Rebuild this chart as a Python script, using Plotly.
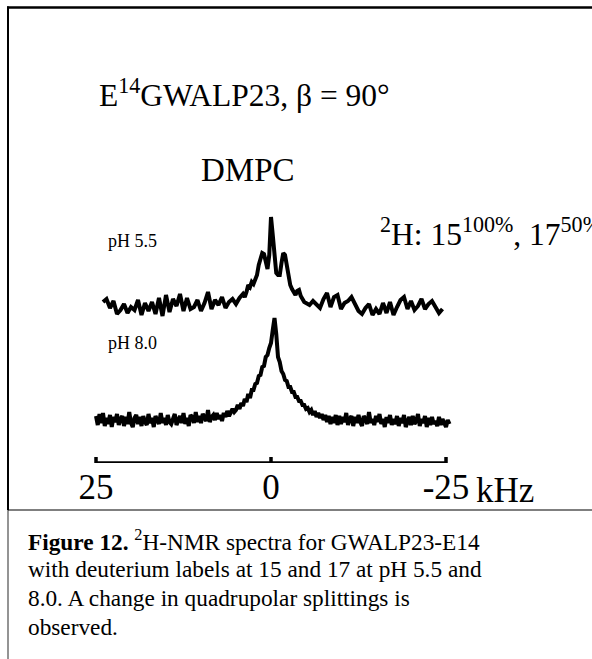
import plotly.graph_objects as go

# ---------------------------------------------------------------------------
# 2H-NMR spectra of E14GWALP23 in DMPC (beta = 90 deg), frequency in kHz
# ---------------------------------------------------------------------------

# pH 5.5 spectrum
freq_ph55 = [
    24.0, 23.5, 23.0, 22.5, 22.0, 21.5, 21.0, 20.5, 20.0, 19.5,
    19.0, 18.5, 18.0, 17.5, 17.0, 16.5, 16.0, 15.5, 15.0, 14.5,
    14.0, 13.5, 13.0, 12.5, 12.0, 11.5, 11.0, 10.5, 10.0, 9.5,
    9.0, 8.5, 8.0, 7.5, 7.0, 6.5, 6.0, 5.5, 5.0, 4.5,
    4.0, 3.75, 3.5, 3.25, 3.0, 2.75, 2.5, 2.25, 2.0, 1.75,
    1.5, 1.25, 1.0, 0.75, 0.5, 0.25, 0.0, -0.25, -0.5, -0.75,
    -1.0, -1.25, -1.5, -1.75, -2.0, -2.25, -2.5, -2.75, -3.0, -3.25,
    -3.5, -3.75, -4.0, -4.25, -4.5, -4.75, -5.0,
    -5.5, -6.0, -6.5, -7.0, -7.5, -8.0, -8.5, -9.0, -9.5, -10.0,
    -10.5, -11.0, -11.5, -12.0, -12.5, -13.0, -13.5, -14.0, -14.5, -15.0,
    -15.5, -16.0, -16.5, -17.0, -17.5, -18.0, -18.5, -19.0, -19.5, -20.0,
    -20.5, -21.0, -21.5, -22.0, -22.5, -23.0, -23.5, -24.0, -24.5,
]
intensity_ph55 = [
    3, 6, -3, 4, -9, -5, 1, -8, -2, -5,
    5, -10, 2, -6, 3, -9, 7, -11, 10, -7,
    6, -1, 11, -6, 7, -4, -2, 5, -6, 2,
    13, -4, 5, 0, 8, -3, 3, 6, 1, 7,
    11, 8, 13, 20, 18, 23, 21, 27, 30, 40,
    48, 52, 51, 42, 36, 50, 88, 70, 45, 32,
    30, 30, 42, 52, 50, 38, 28, 20, 16, 12,
    10, 14, 15, 9, 5, 3, 2,
    0, 4, 1, -3, 6, 12, -2, 8, 10, -4,
    2, 4, 8, 0, -6, -9, -3, 1, -10, -4,
    -9, 2, -8, 3, -10, -2, 5, 8, -4, 4,
    -5, -1, 6, -4, 1, 4, -2, -8, -4,
]

# pH 8.0 spectrum
freq_ph80 = [
    25.0, 24.75, 24.5, 24.25, 24.0, 23.75, 23.5, 23.25, 23.0, 22.75,
    22.5, 22.25, 22.0, 21.75, 21.5, 21.25, 21.0, 20.75, 20.5, 20.25,
    20.0, 19.75, 19.5, 19.25, 19.0, 18.75, 18.5, 18.25, 18.0, 17.75,
    17.5, 17.25, 17.0, 16.75, 16.5, 16.25, 16.0, 15.75, 15.5, 15.25,
    15.0, 14.75, 14.5, 14.25, 14.0, 13.75, 13.5, 13.25, 13.0, 12.75,
    12.5, 12.25, 12.0, 11.75, 11.5, 11.25, 11.0, 10.75, 10.5, 10.25,
    10.0, 9.75, 9.5, 9.25, 9.0, 8.75, 8.5, 8.25, 8.0, 7.75,
    7.5, 7.25, 7.0, 6.75, 6.5, 6.25, 6.0, 5.75, 5.5, 5.25,
    5.0, 4.75, 4.5, 4.25, 4.0, 3.75, 3.5, 3.25, 3.0, 2.75,
    2.5, 2.25, 2.0, 1.75, 1.5, 1.25, 1.0, 0.75, 0.5, 0.25,
    0.0, -0.25, -0.5, -0.75, -1.0, -1.25, -1.5, -1.75, -2.0, -2.25,
    -2.5, -2.75, -3.0, -3.25, -3.5, -3.75, -4.0, -4.25, -4.5, -4.75,
    -5.0, -5.25, -5.5, -5.75, -6.0, -6.25, -6.5, -6.75, -7.0, -7.25,
    -7.5, -7.75, -8.0, -8.25, -8.5, -8.75, -9.0, -9.25, -9.5, -9.75,
    -10.0, -10.25, -10.5, -10.75, -11.0, -11.25, -11.5, -11.75, -12.0, -12.25,
    -12.5, -12.75, -13.0, -13.25, -13.5, -13.75, -14.0, -14.25, -14.5, -14.75,
    -15.0, -15.25, -15.5, -15.75, -16.0, -16.25, -16.5, -16.75, -17.0, -17.25,
    -17.5, -17.75, -18.0, -18.25, -18.5, -18.75, -19.0, -19.25, -19.5, -19.75,
    -20.0, -20.25, -20.5, -20.75, -21.0, -21.25, -21.5, -21.75, -22.0, -22.25,
    -22.5, -22.75, -23.0, -23.25, -23.5, -23.75, -24.0, -24.25, -24.5, -24.75,
    -25.0, -25.25, -25.5,
]
intensity_ph80 = [
    4, -5, 6, -3, 7, -6, 2, -4, 5, -7,
    3, -2, 6, -5, 1, 4, -6, 3, -4, 8,
    -3, -7, 2, 5, -4, 3, -6, 4, -2, -5,
    6, -3, 2, -7, 4, -1, -4, 7, -3, 2,
    -5, 5, -2, -4, 3, 6, -5, 1, 4, -3,
    7, -4, 2, -6, 5, 3, -3, 8, -2, 4,
    -3, 6, 2, -1, 10, -2, 3, 5, 0, 7,
    1, 5, -1, 7, 3, 9, 4, 8, 11, 8,
    10, 15, 11, 17, 14, 21, 18, 26, 22, 30,
    30, 36, 37, 44, 45, 53, 54, 63, 65, 72,
    77, 90, 102, 86, 63, 58, 49, 46, 40, 39,
    33, 33, 28, 28, 23, 23, 19, 19, 15, 15,
    11, 12, 8, 10, 5, 9, 3, 7, 2, 6,
    0, 5, -2, 4, -4, 3, -3, 5, -5, 4,
    -4, 3, -2, 7, -5, 1, 4, -6, 3, -3,
    5, -2, -6, 4, 1, -4, 8, -3, 1, -5,
    4, -2, 6, -4, 1, -7, 3, -3, 5, -5,
    1, -4, 4, -6, 2, -3, 5, -7, -1, 3,
    -5, 4, -4, -1, 6, -6, 1, -3, 4, -7,
    2, -5, 3, -4, -1, -6, 3, -5, 1, -3,
    -7, 0, -4,
]

# scale bar ticks
tick_vals = [25, 0, -25]
tick_text = ["25", "0", "-25"]

# ---------------------------------------------------------------------------
W, H = 592, 659
SERIF = "Liberation Serif"
BAR_Y = 463          # pixel row of the scale bar
PX_PER_KHZ = 7.0
X_25 = 96            # pixel column of +25 kHz

x_left = 25 + X_25 / PX_PER_KHZ
x_right = x_left - W / PX_PER_KHZ

OFFSET_PH55 = BAR_Y - 305   # stacked baselines
OFFSET_PH80 = BAR_Y - 420


def px(x):
    return x / W


def py(y):
    return 1 - y / H


fig = go.Figure()
for freq, inten, off in [(freq_ph55, intensity_ph55, OFFSET_PH55),
                         (freq_ph80, intensity_ph80, OFFSET_PH80)]:
    fig.add_trace(go.Scatter(
        x=freq, y=[v + off for v in inten], mode="lines",
        line=dict(color="black", width=4, shape="linear"),
        hoverinfo="skip", showlegend=False,
    ))

shapes = []
# scale bar and its ticks
shapes.append(dict(type="line", xref="x", yref="y", x0=tick_vals[0], x1=tick_vals[-1],
                   y0=0, y1=0, line=dict(color="black", width=3.5)))
for v in tick_vals:
    shapes.append(dict(type="line", xref="x", yref="y", x0=v, x1=v, y0=-6, y1=6,
                       line=dict(color="black", width=3.5)))

# frame lines
shapes += [
    dict(type="line", xref="paper", yref="paper", x0=px(7), x1=1, y0=py(7.5), y1=py(7.5),
         line=dict(color="black", width=2.5)),
    dict(type="line", xref="paper", yref="paper", x0=px(8), x1=px(8), y0=py(6.5), y1=py(510),
         line=dict(color="black", width=2)),
    dict(type="line", xref="paper", yref="paper", x0=px(8), x1=px(8), y0=py(510), y1=0,
         line=dict(color="#707070", width=1.5)),
    dict(type="line", xref="paper", yref="paper", x0=px(8), x1=1, y0=py(510), y1=py(510),
         line=dict(color="black", width=1.2)),
]

annotations = []


def label(text, x, y, size, xanchor="left"):
    annotations.append(dict(
        text=text, x=px(x), y=py(y), xref="paper", yref="paper",
        xanchor=xanchor, yanchor="middle", showarrow=False,
        font=dict(family=SERIF, size=size, color="black"),
    ))


label("E<sup>14</sup>GWALP23, β = 90°", 97, 93, 31.5)
label("DMPC", 248, 170, 33, xanchor="center")
label("<sup>2</sup>H: 15<sup>100%</sup>, 17<sup>50%</sup>", 378, 232, 31.5)
label("pH 5.5", 106, 241, 18)
label("pH 8.0", 106, 343, 18)

# unit next to the -25 tick label
annotations.append(dict(
    text="kHz", x=tick_vals[-1], y=0, xref="x", yref="y", xanchor="left", yanchor="top",
    xshift=28, yshift=-6, showarrow=False,
    font=dict(family=SERIF, size=35, color="black"),
))

caption = [
    "<b>Figure 12.</b> <sup>2</sup>H-NMR spectra for GWALP23-E14",
    "with deuterium labels at 15 and 17 at pH 5.5 and",
    "8.0. A change in quadrupolar splittings is",
    "observed.",
]
for i, line in enumerate(caption):
    label(line, 26, 540 + 29 * i, 23.3)

fig.update_layout(
    width=W, height=H,
    margin=dict(l=0, r=0, t=0, b=0),
    paper_bgcolor="white", plot_bgcolor="white",
    shapes=shapes, annotations=annotations,
    xaxis=dict(domain=[0, 1], range=[x_left, x_right], showgrid=False, zeroline=False,
               showline=False, ticks="", tickvals=tick_vals, ticktext=tick_text,
               tickfont=dict(family=SERIF, size=35, color="black"), ticklabelstandoff=0),
    yaxis=dict(domain=[1 - BAR_Y / H, 1], range=[0, BAR_Y], visible=False),
)

fig.write_html("out.html")
